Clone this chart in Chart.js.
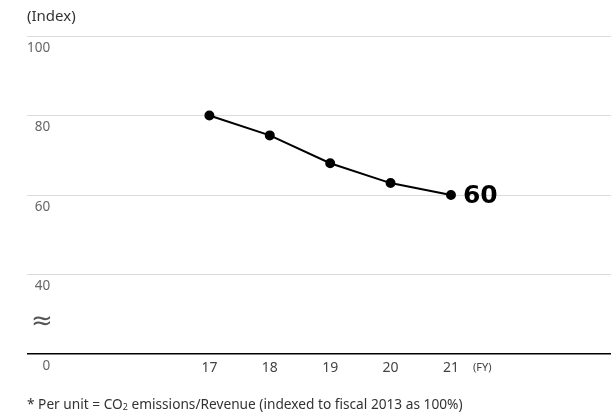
<!DOCTYPE html>
<html>
<head>
<meta charset="utf-8">
<script src="https://cdn.jsdelivr.net/npm/chart.js@4"></script>
<style>
  html, body { margin: 0; padding: 0; background: #fff; }
  #wrap { position: relative; width: 611px; height: 419px; font-family: 'Noto Sans', sans-serif; }
  #unit { position: absolute; left: 27px; top: 5px; font-size: 15px; color: #333; }
  #note { position: absolute; left: 27px; top: 394px; font-size: 13.7px; color: #333; white-space: nowrap; }
  #note sub { font-size: 9px; vertical-align: 0; position: relative; top: 1px; }
  canvas { position: absolute; left: 0; top: 0; }
</style>
</head>
<body>
<div id="wrap">
  <canvas id="chart" width="611" height="419"></canvas>
  <div id="unit">(Index)</div>
  <div id="note">* Per unit = CO<sub>2</sub> emissions/Revenue (indexed to fiscal 2013 as 100%)</div>
</div>
<script>
// ── DATA ───────────────────────────────────────────
const fiscalYears = [17, 18, 19, 20, 21];
const indexValues = [80, 75, 68, 63, 60];

// The axis is broken: the bottom line stands for 0, but sits where 20 would be
const yTickValues = [20, 40, 60, 80, 100];
const yTickLabels = ['0', '40', '60', '80', '100'];

// ── PLUGIN: extra labels ("≈", "(FY)", end value) ──
const extraLabels = {
  id: 'extraLabels',
  afterDatasetsDraw(chart) {
    const ctx = chart.ctx;
    const x = chart.scales.x;
    const y = chart.scales.y;
    const lastIdx = indexValues.length - 1;
    ctx.save();

    // break mark on the y axis
    ctx.fillStyle = '#555';
    ctx.font = '26px "DejaVu Sans"';
    ctx.textAlign = 'left';
    ctx.textBaseline = 'middle';
    ctx.fillText('≈', chart.chartArea.left + 4, y.getPixelForValue(28));

    // (FY) next to the last year label
    ctx.font = '11px "Noto Sans"';
    ctx.fillStyle = '#444';
    ctx.fillText('(FY)', x.getPixelForValue(fiscalYears[lastIdx]) + 22, chart.chartArea.bottom + 14);

    // big value at the end of the line
    ctx.font = 'bold 25px "DejaVu Sans"';
    ctx.fillStyle = '#000';
    ctx.fillText(String(indexValues[lastIdx]),
      x.getPixelForValue(fiscalYears[lastIdx]) + 12,
      y.getPixelForValue(indexValues[lastIdx]) + 1);
    ctx.restore();
  }
};

// ── BUILD CHART ────────────────────────────────────
function buildChart() {
  const ctx = document.getElementById('chart').getContext('2d');

  new Chart(ctx, {
    type: 'line',
    data: {
      datasets: [{
        data: fiscalYears.map((fy, i) => ({ x: fy, y: indexValues[i] })),
        borderColor: '#000',
        borderWidth: 2,
        pointBackgroundColor: '#000',
        pointBorderColor: '#000',
        pointRadius: 4,
        tension: 0
      }]
    },
    options: {
      responsive: false,
      animation: false,
      layout: { autoPadding: false, padding: { left: 27, right: 0, top: 36, bottom: 35 } },
      plugins: { legend: { display: false }, tooltip: { enabled: false } },
      scales: {
        x: {
          type: 'linear',
          min: 13.98,
          max: 23.65,
          afterBuildTicks(scale) { scale.ticks = fiscalYears.map(v => ({ value: v })); },
          afterFit(scale) {
            scale.height = 30;
            scale.paddingLeft = 0;   // don't let label widths shrink the plot
            scale.paddingRight = 0;
          },
          border: { display: false },
          grid: { display: false, drawTicks: false },
          ticks: {
            callback: v => String(v),
            color: '#444',
            padding: 6,
            maxRotation: 0,
            font: { family: 'Noto Sans', size: 14 }
          }
        },
        y: {
          min: 20,
          max: 100,
          afterBuildTicks(scale) { scale.ticks = yTickValues.map(v => ({ value: v })); },
          afterFit(scale) { scale.width = 0; },
          border: { display: false },
          grid: {
            drawTicks: false,
            color: c => (c.tick && c.tick.value === 20) ? '#000' : '#dcdcdc',
            lineWidth: c => (c.tick && c.tick.value === 20) ? 1.6 : 1
          },
          ticks: {
            mirror: true,
            crossAlign: 'far',
            padding: 0,
            labelOffset: 12,
            color: '#666',
            font: { family: 'Noto Sans', size: 13.5 },
            callback: v => yTickLabels[yTickValues.indexOf(v)]
          }
        }
      }
    },
    plugins: [extraLabels]
  });
}

window.onload = buildChart;
</script>
</body>
</html>
